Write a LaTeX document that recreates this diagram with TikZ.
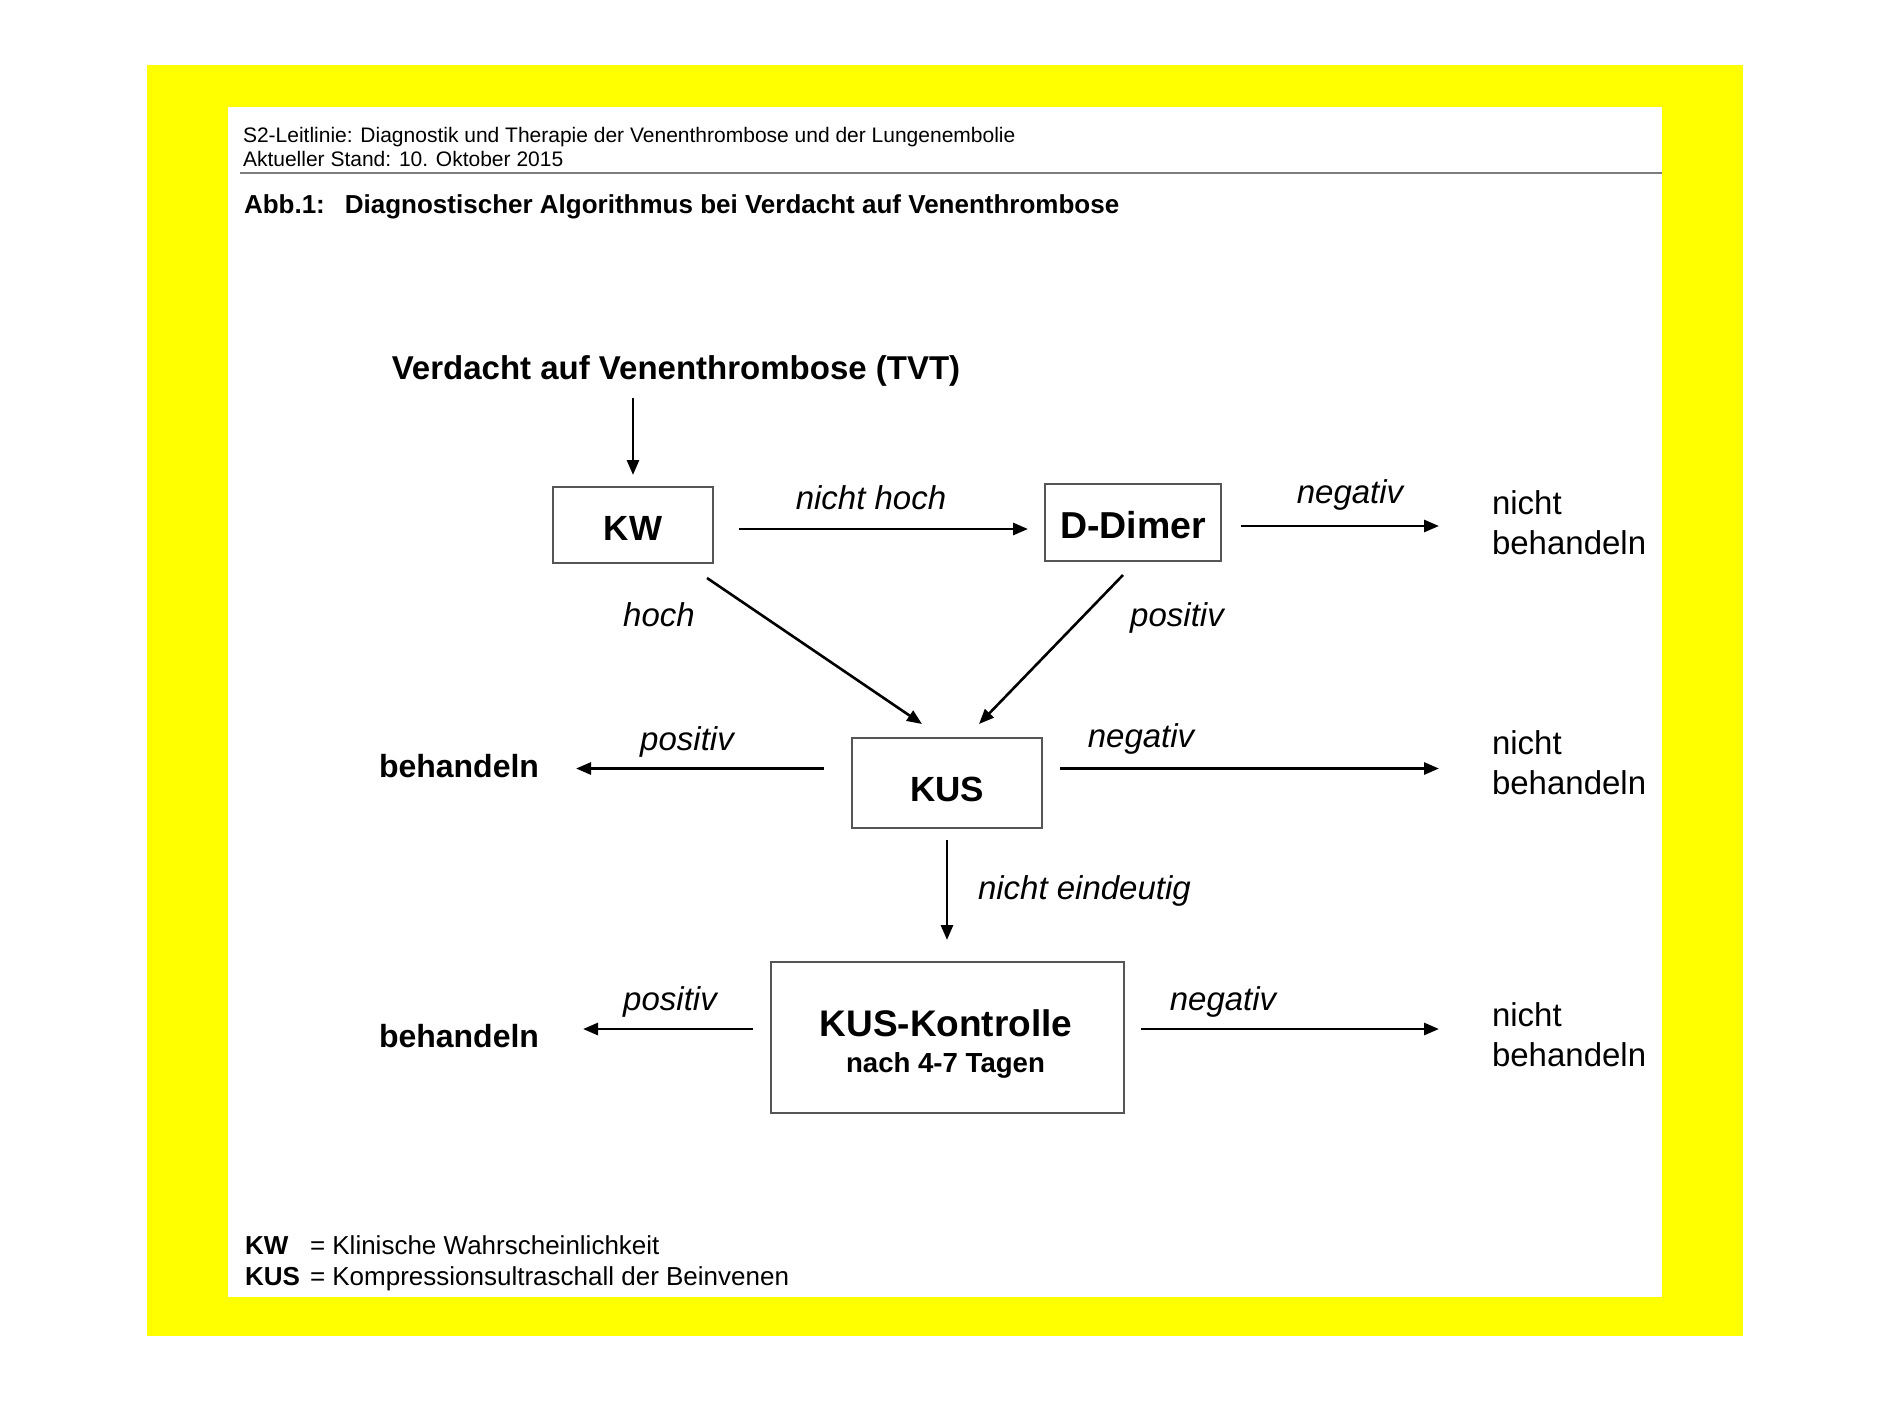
\documentclass[tikz,border=0pt]{standalone}
\usepackage{fontspec}
\setmainfont{Liberation Sans}
\usetikzlibrary{arrows.meta}
\definecolor{ylw}{RGB}{255,255,0}
\definecolor{boxgray}{RGB}{85,85,85}
\definecolor{rulegray}{RGB}{125,125,125}
\newcommand\myfs[1]{\fontsize{#1}{#1}\selectfont}
\begin{document}
\begin{tikzpicture}[x=1pt,y=-1pt,
  txt/.style={inner sep=0pt, outer sep=0pt},
  lbl/.style={txt, font=\myfs{33}\itshape, anchor=base},
  outcome/.style={txt, font=\myfs{33}, anchor=base west},
  treat/.style={txt, font=\myfs{32}\bfseries, anchor=base west},
  boxnode/.style={draw=boxgray, line width=2pt, inner sep=0pt, outer sep=0pt, text depth=0pt},
  arr/.style={line width=2.8pt, -{Triangle[length=15pt,width=12pt]}},
  diag/.style={line width=2.6pt, -{Triangle[length=15pt,width=12pt]}}]
\fill[white] (0,0) rectangle (1890,1417);
\useasboundingbox (0,0) rectangle (1890,1417);
\fill[ylw] (147,65) rectangle (1743,1336);
\fill[white] (228,107) rectangle (1662,1297);
\draw[rulegray, line width=2pt] (240,173) -- (1662,173);

% header
\node[txt, font=\myfs{21}, anchor=base west] (h1) at (243,142) {S2-Leitlinie: Diagnostik und Therapie der Venenthrombose und der Lungenembolie};
\node[txt, font=\myfs{21}, anchor=base west] (h2) at (243,166) {Aktueller Stand: 10. Oktober 2015};
\node[txt, font=\myfs{26}\bfseries, anchor=base west] (title) at (244,213) {Abb.1:\hspace{20pt}Diagnostischer Algorithmus bei Verdacht auf Venenthrombose};

% start
\node[txt, font=\myfs{33}\bfseries, anchor=base] (tvt) at (676,379) {Verdacht auf Venenthrombose (TVT)};

% boxes
\node[boxnode, minimum width=160pt, minimum height=76pt, font=\myfs{35}\bfseries, text height=31pt] (kw) at (633,525) {KW};
\node[boxnode, minimum width=176pt, minimum height=77pt, font=\myfs{37.5}\bfseries, text height=31pt] (dd) at (1133,522.5) {D-Dimer};
\node[boxnode, minimum width=190pt, minimum height=90pt, font=\myfs{35}\bfseries, text height=36pt] (kus) at (947,783) {KUS};
\node[boxnode, minimum width=353pt, minimum height=151pt] (kusk) at (947.5,1037.5) {};
\node[txt, font=\myfs{37}\bfseries, anchor=base] (kusk1) at (946,1036) {KUS-Kontrolle};
\node[txt, font=\myfs{27.6}\bfseries, anchor=base] (kusk2) at (945.5,1072) {nach 4-7 Tagen};

% outcomes
\node[outcome] (nb1a) at (1492,514) {nicht};
\node[outcome] (nb1b) at (1492,554) {behandeln};
\node[outcome] (nb2a) at (1492,754) {nicht};
\node[outcome] (nb2b) at (1492,794) {behandeln};
\node[outcome] (nb3a) at (1492,1026) {nicht};
\node[outcome] (nb3b) at (1492,1066) {behandeln};
\node[treat] (beh1) at (379,777) {behandeln};
\node[treat] (beh2) at (379,1047) {behandeln};

% labels
\node[lbl] (lnh) at (871,509) {nicht hoch};
\node[lbl] (lneg1) at (1350,503) {negativ};
\node[lbl] (lhoch) at (659,626) {hoch};
\node[lbl] (lpos1) at (1177,626) {positiv};
\node[lbl] (lpos2) at (687,750) {positiv};
\node[lbl] (lneg2) at (1141,747) {negativ};
\node[lbl, anchor=base west] (lne) at (978,899) {nicht eindeutig};
\node[lbl] (lpos3) at (670,1010) {positiv};
\node[lbl] (lneg3) at (1223,1010) {negativ};

% connectors
\draw[arr, shorten <=12pt, shorten >=12pt] (tvt.south -| kw.north) -- (kw.north);
\draw[arr, shorten <=26pt, shorten >=17pt] ([yshift=-4pt]kw.east) -- ([yshift=-4pt]kw.east -| dd.west);
\draw[arr, shorten <=20pt, shorten >=53pt] ([yshift=-3.5pt]dd.east) -- ([yshift=-3.5pt]dd.east -| nb1a.west);
\draw[diag] ([xshift=-6pt,yshift=-15pt]kw.south east) -- ([xshift=-25pt,yshift=14pt]kus.north);
\draw[diag] ([xshift=-10pt,yshift=-14pt]dd.south) -- ([xshift=32pt,yshift=14pt]kus.north);
\draw[arr, shorten <=28pt, shorten >=37pt] ([yshift=14.5pt]kus.west) -- ([yshift=14.5pt]kus.west -| beh1.east);
\draw[arr, shorten <=18pt, shorten >=53pt] ([yshift=14.5pt]kus.east) -- ([yshift=14.5pt]kus.east -| nb2a.west);
\draw[arr, shorten <=12pt, shorten >=22pt] (kus.south) -- (kus.south |- kusk.north);
\draw[arr, shorten <=18pt, shorten >=44pt] ([yshift=8.5pt]kusk.west) -- ([yshift=8.5pt]kusk.west -| beh2.east);
\draw[arr, shorten <=17pt, shorten >=53pt] ([yshift=8.5pt]kusk.east) -- ([yshift=8.5pt]kusk.east -| nb3a.west);

% footer
\node[txt, font=\myfs{26}\bfseries, anchor=base west] (f1k) at (245,1254) {KW};
\node[txt, font=\myfs{26}, anchor=base west] (f1t) at (310,1254) {= Klinische Wahrscheinlichkeit};
\node[txt, font=\myfs{26}\bfseries, anchor=base west] (f2k) at (245,1285) {KUS};
\node[txt, font=\myfs{26}, anchor=base west] (f2t) at (310,1285) {= Kompressionsultraschall der Beinvenen};
\end{tikzpicture}
\end{document}
